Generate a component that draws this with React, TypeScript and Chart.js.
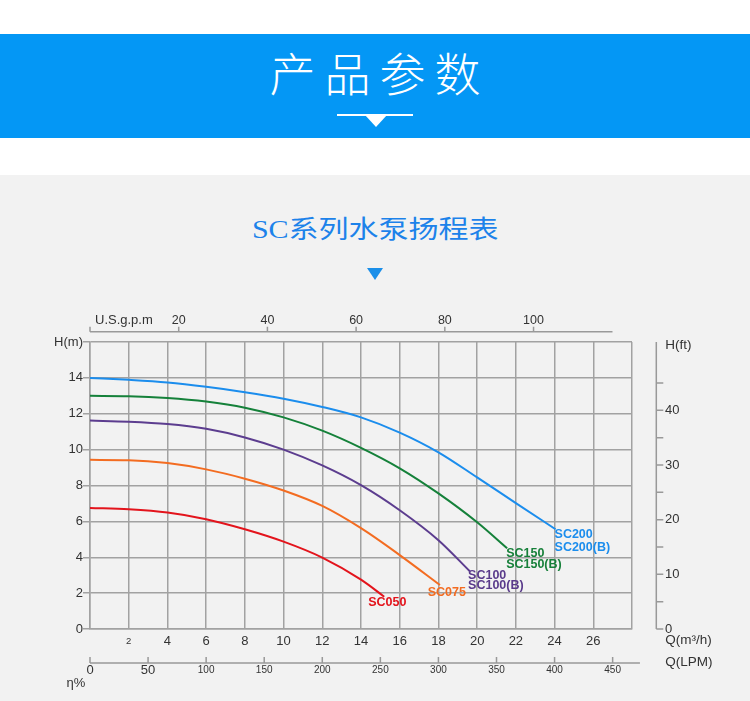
import React, { useEffect, useRef } from 'react';
import { Chart, registerables } from 'chart.js';

Chart.register(...registerables);

// ---------- data ----------
const SC200_Q = [0, 2, 4, 6, 8, 10, 12, 14, 16, 18, 20, 22, 24.05];
const SC200_H = [14.0, 13.89, 13.74, 13.5, 13.2, 12.84, 12.38, 11.8, 10.95, 9.85, 8.45, 7.02, 5.56];

const SC150_Q = [0, 2, 4, 6, 8, 10, 12, 14, 16, 18, 20, 21.55];
const SC150_H = [13.0, 12.98, 12.88, 12.68, 12.34, 11.8, 11.06, 10.1, 8.96, 7.56, 5.95, 4.5];

const SC100_Q = [0, 2, 4, 6, 8, 10, 12, 14, 16, 18, 19.62];
const SC100_H = [11.62, 11.56, 11.43, 11.16, 10.68, 10.0, 9.12, 8.02, 6.62, 4.95, 3.22];

const SC075_Q = [0, 2, 4, 6, 8, 10, 12, 14, 16, 18.08];
const SC075_H = [9.43, 9.41, 9.25, 8.9, 8.38, 7.72, 6.86, 5.62, 4.12, 2.45];

const SC050_Q = [0, 2, 4, 6, 8, 10, 12, 14, 15.2];
const SC050_H = [6.75, 6.67, 6.49, 6.12, 5.56, 4.87, 3.98, 2.75, 1.8];

const SERIES_LABELS = [
  ['SC200', 'SC200(B)'],
  ['SC150', 'SC150(B)'],
  ['SC100', 'SC100(B)'],
  ['SC075'],
  ['SC050'],
];

const Q_MAX = 28; // m3/h
const H_MAX = 16; // m
const GPM_MAX = 122.2; // top axis extent
const GPM_LINE_END = 117.8;
const GPM_TICKS = [0, 20, 40, 60, 80, 100];
const LPM_MAX = (Q_MAX * 1000) / 60;
const LPM_LINE_END = 473.5;
const LPM_TICKS = [0, 50, 100, 150, 200, 250, 300, 350, 400, 450];
const FT_MAX = H_MAX / 0.3048;
const FT_TICKS = [0, 5, 10, 15, 20, 25, 30, 35, 40, 45];

// ---------- styles ----------
const COLORS = ['#1b8ded', '#15813a', '#5c3d8f', '#f36c21', '#e3141c'];
const LABEL_COLORS = ['#1b8ded', '#17803a', '#5a3b8b', '#f36c21', '#e3141c'];
const LABEL_OFFSETS = [
  { dx: -1, dy: 5, gap: 13.4 },
  { dx: -1, dy: 5.6, gap: 11 },
  { dx: -1.7, dy: 4.3, gap: 10 },
  { dx: -12.3, dy: 7.3, gap: 0 },
  { dx: -16, dy: 5.6, gap: 0 },
];
const GRID = '#a2a2a2';
const AXIS = '#999999';
const FONT = "'Liberation Sans', Arial, sans-serif";
const TXT = '#333333';

const decorPlugin = {
  id: 'decor',
  afterDraw(chart: any) {
    const { ctx, chartArea, scales } = chart;
    ctx.save();
    ctx.strokeStyle = AXIS;
    ctx.lineWidth = 1.5;

    // top U.S.g.p.m axis
    const xt = scales.xTop;
    const gy = chartArea.top - 10.3;
    ctx.beginPath();
    ctx.moveTo(xt.getPixelForValue(0), gy);
    ctx.lineTo(xt.getPixelForValue(GPM_LINE_END), gy);
    xt.ticks.forEach((t: any) => {
      const px = xt.getPixelForValue(t.value);
      ctx.moveTo(px, gy);
      ctx.lineTo(px, gy - 5);
    });
    ctx.stroke();

    // bottom LPM axis
    const xl = scales.xLpm;
    const ly = chartArea.bottom + 34;
    ctx.beginPath();
    ctx.moveTo(xl.getPixelForValue(0), ly);
    ctx.lineTo(xl.getPixelForValue(LPM_LINE_END), ly);
    xl.ticks.forEach((t: any) => {
      const px = xl.getPixelForValue(t.value);
      ctx.moveTo(px, ly);
      ctx.lineTo(px, ly - 6);
    });
    ctx.stroke();

    // right H(ft) axis
    const yf = scales.yFt;
    const fx = chartArea.right + 24.3;
    ctx.beginPath();
    ctx.moveTo(fx, chartArea.top);
    ctx.lineTo(fx, chartArea.bottom);
    yf.ticks.forEach((t: any) => {
      const py = yf.getPixelForValue(t.value);
      ctx.moveTo(fx, py);
      ctx.lineTo(fx + 7, py);
    });
    ctx.stroke();

    // axis titles
    ctx.fillStyle = TXT;
    ctx.textBaseline = 'middle';
    ctx.textAlign = 'left';
    ctx.font = `13px ${FONT}`;
    ctx.fillText('U.S.g.p.m', 95, gy - 11);
    ctx.fillText('η%', 66.5, ly + 20.3);
    ctx.font = `13.5px ${FONT}`;
    ctx.fillText('Q(LPM)', fx + 9, ly - 0.3);
    ctx.fillText('Q(m³/h)', fx + 9, chartArea.bottom + 11);
    ctx.fillText('H(ft)', fx + 9, chartArea.top + 3);

    // series labels at curve ends
    ctx.font = `bold 12.5px ${FONT}`;
    chart.data.datasets.forEach((ds: any, i: number) => {
      const meta = chart.getDatasetMeta(i);
      const last = meta.data[meta.data.length - 1];
      const off = LABEL_OFFSETS[i];
      ctx.fillStyle = LABEL_COLORS[i];
      SERIES_LABELS[i].forEach((line: string, k: number) => {
        ctx.fillText(line, last.x + off.dx, last.y + off.dy + k * off.gap);
      });
    });
    ctx.restore();
  },
};

function mk(q: number[], h: number[]) {
  return q.map((x, i) => ({ x, y: h[i] }));
}

function PumpChart() {
  const ref = useRef<HTMLCanvasElement | null>(null);
  useEffect(() => {
    if (!ref.current) return;
    const series = [
      mk(SC200_Q, SC200_H),
      mk(SC150_Q, SC150_H),
      mk(SC100_Q, SC100_H),
      mk(SC075_Q, SC075_H),
      mk(SC050_Q, SC050_H),
    ];
    const chart = new Chart(ref.current, {
      type: 'line',
      data: {
        datasets: series.map((d, i) => ({
          label: SERIES_LABELS[i][0],
          data: d,
          borderColor: COLORS[i],
          borderWidth: 2,
          pointRadius: 0,
          fill: false,
          cubicInterpolationMode: 'monotone',
          xAxisID: 'x',
          yAxisID: 'y',
        })),
      },
      options: {
        animation: false,
        responsive: false,
        layout: { padding: 0 },
        plugins: { legend: { display: false }, tooltip: { enabled: false } },
        scales: {
          x: {
            type: 'linear',
            position: 'bottom',
            min: 0,
            max: Q_MAX,
            ticks: {
              stepSize: 2,
              autoSkip: false,
              maxRotation: 0,
              padding: 4,
              color: TXT,
              font: (c: any) => ({
                family: FONT,
                size: c.tick && c.tick.value === 2 ? 9.5 : 13,
                lineHeight: '16px',
              }),
              callback: (v: any) => (v === 0 || v === Q_MAX ? '' : String(v)),
            },
            grid: { color: GRID, lineWidth: 1.5, drawTicks: false },
            border: { color: GRID, width: 1.5 },
            afterFit: (s: any) => {
              s.height = 34;
            },
          },
          xLpm: {
            type: 'linear',
            position: 'bottom',
            weight: 1,
            min: 0,
            max: LPM_MAX,
            afterBuildTicks: (s: any) => {
              s.ticks = LPM_TICKS.map((v) => ({ value: v }));
            },
            ticks: {
              autoSkip: false,
              maxRotation: 0,
              padding: 0,
              color: TXT,
              font: (c: any) => ({
                family: FONT,
                size: c.tick && c.tick.value <= 50 ? 13 : 10,
                lineHeight: '14px',
              }),
              callback: (v: any) => String(v),
            },
            grid: { display: false, drawTicks: false },
            border: { display: false },
            afterFit: (s: any) => {
              s.height = 38;
            },
          },
          xTop: {
            type: 'linear',
            position: 'top',
            min: 0,
            max: GPM_MAX,
            afterBuildTicks: (s: any) => {
              s.ticks = GPM_TICKS.map((v) => ({ value: v }));
            },
            ticks: {
              autoSkip: false,
              maxRotation: 0,
              padding: 14.3,
              color: TXT,
              font: { family: FONT, size: 12.5, lineHeight: '14px' },
              callback: (v: any) => (v === 0 ? '' : String(v)),
            },
            grid: { display: false, drawTicks: false },
            border: { display: false },
            afterFit: (s: any) => {
              s.height = 42;
            },
          },
          y: {
            type: 'linear',
            position: 'left',
            min: 0,
            max: H_MAX,
            ticks: {
              stepSize: 2,
              autoSkip: false,
              padding: 0,
              color: TXT,
              font: { family: FONT, size: 13 },
              callback: (v: any) => (v === H_MAX ? 'H(m)' : String(v)),
            },
            grid: { color: GRID, lineWidth: 1.5, drawTicks: true, tickLength: 7 },
            border: { color: GRID, width: 1.5 },
            afterFit: (s: any) => {
              s.width = 90;
            },
          },
          yFt: {
            type: 'linear',
            position: 'right',
            min: 0,
            max: FT_MAX,
            afterBuildTicks: (s: any) => {
              s.ticks = FT_TICKS.map((v) => ({ value: v }));
            },
            ticks: {
              autoSkip: false,
              padding: 33,
              color: TXT,
              font: { family: FONT, size: 13 },
              callback: (v: any) => (v % 10 === 0 ? String(v) : ''),
            },
            grid: { display: false, drawTicks: false },
            border: { display: false },
            afterFit: (s: any) => {
              s.width = 118;
            },
          },
        },
      } as any,
      plugins: [decorPlugin],
    });
    return () => chart.destroy();
  }, []);
  return <canvas ref={ref} width={750} height={401} style={{ display: 'block' }} />;
}

export default function App() {
  return (
    <div
      style={{
        position: 'absolute',
        left: 0,
        top: 0,
        width: 750,
        height: 701,
        background: '#ffffff',
        overflow: 'hidden',
      }}
    >
      <div style={{ position: 'absolute', left: 0, top: 175, width: 750, height: 526, background: '#f2f2f2' }} />
      {/* header band */}
      <div style={{ position: 'absolute', left: 0, top: 34, width: 750, height: 103.5, background: '#0497f5' }} />
      <div
        style={{
          position: 'absolute',
          left: 0,
          top: 48,
          width: 750,
          textAlign: 'center',
          color: '#ffffff',
          fontFamily: "'Noto Sans CJK SC', sans-serif",
          fontWeight: 300,
          fontSize: 46,
          lineHeight: '46px',
          letterSpacing: '9px',
          paddingLeft: 9,
          boxSizing: 'border-box',
        }}
      >
        产品参数
      </div>
      <div style={{ position: 'absolute', left: 337, top: 114, width: 76, height: 2, background: '#ffffff' }} />
      <div
        style={{
          position: 'absolute',
          left: 365,
          top: 115,
          width: 0,
          height: 0,
          borderLeft: '11px solid transparent',
          borderRight: '11px solid transparent',
          borderTop: '12px solid #ffffff',
        }}
      />
      {/* subtitle */}
      <div
        style={{
          position: 'absolute',
          left: 0,
          top: 217,
          width: 750,
          textAlign: 'center',
          color: '#1c82ea',
          fontFamily: "'Liberation Serif', 'Noto Sans CJK SC', serif",
          fontSize: 25,
          lineHeight: '25px',
          transform: 'scaleX(1.2)',
          transformOrigin: '373.7px 50%',
        }}
      >
        SC系列水泵扬程表
      </div>
      <div
        style={{
          position: 'absolute',
          left: 367,
          top: 268,
          width: 0,
          height: 0,
          borderLeft: '8px solid transparent',
          borderRight: '8px solid transparent',
          borderTop: '12.5px solid #1b8fe9',
        }}
      />
      <div style={{ position: 'absolute', left: 0, top: 300, width: 750, height: 401 }}>
        <PumpChart />
      </div>
    </div>
  );
}
